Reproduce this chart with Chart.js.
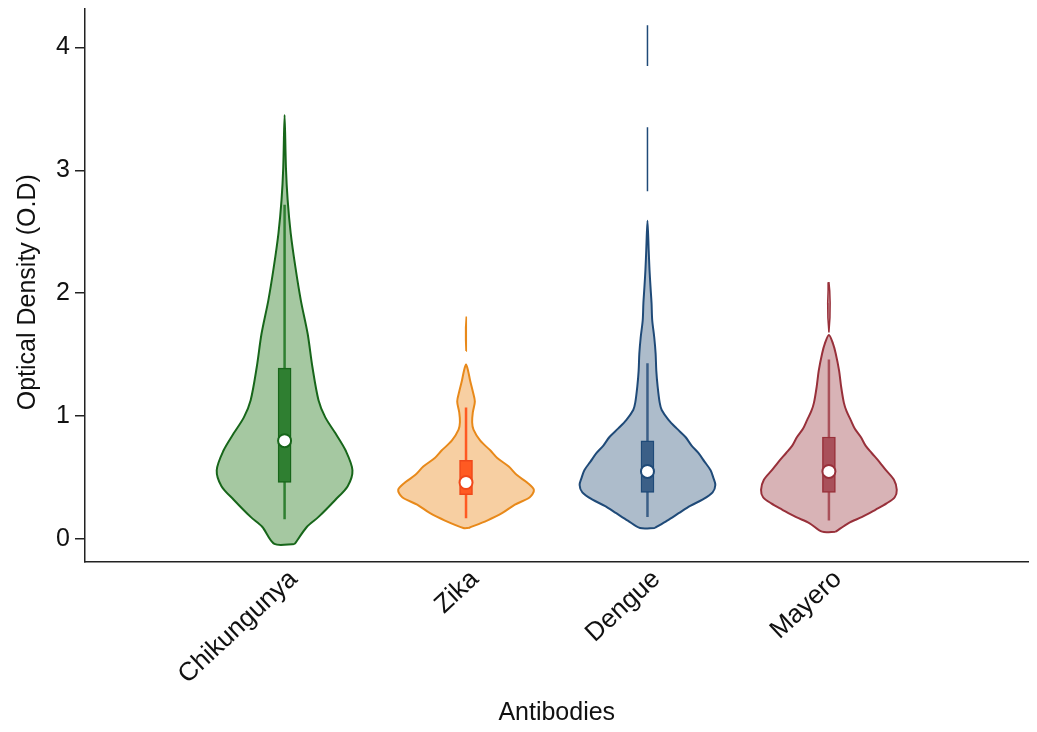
<!DOCTYPE html>
<html>
<head>
<meta charset="utf-8">
<script src="https://cdn.jsdelivr.net/npm/chart.js@4.4.1/dist/chart.umd.min.js"></script>
<style>
  html, body { margin: 0; padding: 0; background: #fff; }
  #wrap { width: 1037px; height: 732px; }
</style>
</head>
<body>
<div id="wrap"><canvas id="violins" width="1037" height="732"></canvas></div>
<script>
// Violin plot: OD of antibodies per virus. Density = relative half-width (1 = widest).
const categories = ['Chikungunya', 'Zika', 'Dengue', 'Mayero'];
const yTicks = [0, 1, 2, 3, 4];

const chikLevels  = [-0.04, 0.10, 0.18, 0.32, 0.43, 0.56, 0.72, 0.86, 0.99, 1.13, 1.40, 1.67, 1.94, 2.21, 2.49, 2.76, 3.02, 3.45];
const chikDensity = [0.15, 0.33, 0.50, 0.75, 0.93, 1.00, 0.90, 0.75, 0.60, 0.50, 0.41, 0.34, 0.24, 0.16, 0.09, 0.045, 0.02, 0];

const zikaLevels  = [0.09, 0.15, 0.21, 0.28, 0.34, 0.40, 0.46, 0.52, 0.59, 0.66, 0.72, 0.80, 0.89, 0.95, 1.03, 1.12, 1.20, 1.29, 1.37, 1.42];
const zikaDensity = [0.04, 0.31, 0.53, 0.72, 0.94, 1.00, 0.90, 0.75, 0.63, 0.46, 0.36, 0.21, 0.11, 0.09, 0.10, 0.13, 0.10, 0.06, 0.03, 0];
const zikaTipLevels  = [1.53, 1.62, 1.72, 1.81];
const zikaTipDensity = [0, 0.006, 0.006, 0];

const dengueLevels  = [0.09, 0.15, 0.21, 0.27, 0.32, 0.38, 0.44, 0.50, 0.56, 0.63, 0.70, 0.76, 0.83, 0.90, 0.97, 1.05, 1.11, 1.24, 1.37, 1.51, 1.64, 1.78, 1.92, 2.05, 2.19, 2.35, 2.59];
const dengueDensity = [0.11, 0.29, 0.46, 0.63, 0.81, 0.96, 1.00, 0.97, 0.93, 0.84, 0.75, 0.65, 0.56, 0.43, 0.31, 0.21, 0.18, 0.15, 0.13, 0.12, 0.10, 0.07, 0.06, 0.045, 0.03, 0.018, 0];
const dengueTip1Levels  = [2.83, 3.00, 3.18, 3.35];
const dengueTip1Density = [0, 0.005, 0.004, 0];
const dengueTip2Levels  = [3.85, 3.96, 4.07, 4.18];
const dengueTip2Density = [0, 0.004, 0.004, 0];

const mayeroLevels  = [0.06, 0.13, 0.18, 0.24, 0.29, 0.34, 0.40, 0.48, 0.56, 0.63, 0.70, 0.76, 0.83, 0.90, 0.97, 1.04, 1.11, 1.24, 1.37, 1.51, 1.59, 1.66];
const mayeroDensity = [0.10, 0.29, 0.49, 0.69, 0.85, 0.97, 1.00, 0.96, 0.84, 0.74, 0.63, 0.54, 0.47, 0.38, 0.32, 0.26, 0.22, 0.18, 0.15, 0.10, 0.06, 0];
const mayeroTipLevels  = [1.68, 1.80, 1.92, 2.02, 2.09];
const mayeroTipDensity = [0, 0.015, 0.018, 0.012, 0];

// box plot stats per category
const whiskerLow  = [0.16, 0.17, 0.18, 0.15];
const q1          = [0.46, 0.36, 0.38, 0.38];
const medians     = [0.80, 0.46, 0.55, 0.55];
const q3          = [1.39, 0.64, 0.80, 0.83];
const whiskerHigh = [2.72, 1.07, 1.43, 1.46];

// outline, fill, box colours per category
const STYLE = [
    { line: '#17661a', fill: '#a5c8a1', box: '#2f7f31', edge: '#17661a' },
    { line: '#e8891a', fill: '#f7cfa2', box: '#ff5a22', edge: '#f0481a' },
    { line: '#1f4a78', fill: '#adbccb', box: '#3b5f87', edge: '#1f4a78' },
    { line: '#98303a', fill: '#d8b3b6', box: '#a9505a', edge: '#98303a' },
];
const MAX_HALF = 0.374;   // widest half-width, in category units
const FONT = '"Liberation Sans", Arial, Helvetica, sans-serif';

const pieces = [
    [0, chikLevels, chikDensity],
    [1, zikaLevels, zikaDensity], [1, zikaTipLevels, zikaTipDensity],
    [2, dengueLevels, dengueDensity], [2, dengueTip1Levels, dengueTip1Density], [2, dengueTip2Levels, dengueTip2Density],
    [3, mayeroLevels, mayeroDensity], [3, mayeroTipLevels, mayeroTipDensity],
];

function outline(pos, lv, dens) {
    const pts = lv.map((y, i) => ({ x: pos + dens[i] * MAX_HALF, y }));
    const stop = dens[0] > 0 ? 0 : 1;
    for (let i = lv.length - 2; i >= stop; i--) pts.push({ x: pos - dens[i] * MAX_HALF, y: lv[i] });
    pts.push(pts[0]);
    return pts;
}

const datasets = [];
pieces.forEach(([k, lv, dens]) => {
    const thin = Math.max(...dens) < 0.05;
    datasets.push({
        data: outline(k + 1, lv, dens), showLine: true, fill: 'shape', tension: thin ? 0 : 0.3,
        borderColor: STYLE[k].line, backgroundColor: STYLE[k].fill, borderWidth: thin ? 1.5 : 2,
        pointRadius: 0, order: 4,
    });
});
categories.forEach((c, k) => {
    datasets.push({
        data: [{ x: k + 1, y: whiskerLow[k] }, { x: k + 1, y: whiskerHigh[k] }],
        showLine: true, borderColor: STYLE[k].box, borderWidth: 2.5, pointRadius: 0, order: 3,
    });
});
datasets.push({
    type: 'bar',
    data: categories.map((c, k) => ({ x: k + 1, y: [q1[k], q3[k]] })),
    backgroundColor: STYLE.map((s) => s.box), borderColor: STYLE.map((s) => s.edge),
    borderWidth: 1.5, borderSkipped: false, barThickness: 13, order: 2,
});
datasets.push({
    data: categories.map((c, k) => ({ x: k + 1, y: medians[k] })),
    pointRadius: 6.5, pointBackgroundColor: '#fff', pointBorderColor: STYLE.map((s) => s.edge),
    pointBorderWidth: 2, order: 1,
});

new Chart(document.getElementById('violins'), {
    type: 'scatter',
    data: { datasets },
    options: {
        responsive: false, animation: false,
        layout: { padding: { top: 8, right: 7, bottom: 4, left: 0 } },
        plugins: { legend: { display: false }, tooltip: { enabled: false } },
        scales: {
            x: {
                type: 'linear', min: -0.1, max: 5.1, offset: false,
                afterBuildTicks: (s) => { s.ticks = categories.map((c, i) => ({ value: i + 1 })); },
                afterFit: (s) => { s.height = 166; s.paddingLeft = 0; s.paddingRight = 0; },
                ticks: { callback: (v) => categories[v - 1], minRotation: 43, maxRotation: 43, autoSkip: false,
                    font: { family: FONT, size: 26 }, color: '#111', padding: -6, labelOffset: 9 },
                grid: { display: false },
                border: { display: true, color: '#222', width: 1.5 },
                title: { display: true, text: 'Antibodies', font: { family: FONT, size: 25 }, color: '#111', padding: 0 },
            },
            y: {
                min: -0.187, max: 4.317,
                afterBuildTicks: (s) => { s.ticks = yTicks.map((v) => ({ value: v })); },
                afterFit: (s) => { s.width = 85; s.paddingTop = 0; s.paddingBottom = 0; },
                ticks: { font: { family: FONT, size: 25 }, color: '#111', padding: 5 },
                grid: { display: true, drawOnChartArea: false, drawTicks: true, tickLength: 10, color: '#222', lineWidth: 1.5 },
                border: { display: true, color: '#222', width: 1.5 },
                title: { display: true, text: 'Optical Density (O.D)  ', font: { family: FONT, size: 25 }, color: '#111', padding: { top: 13 } },
            },
        },
    },
});
</script>
</body>
</html>
